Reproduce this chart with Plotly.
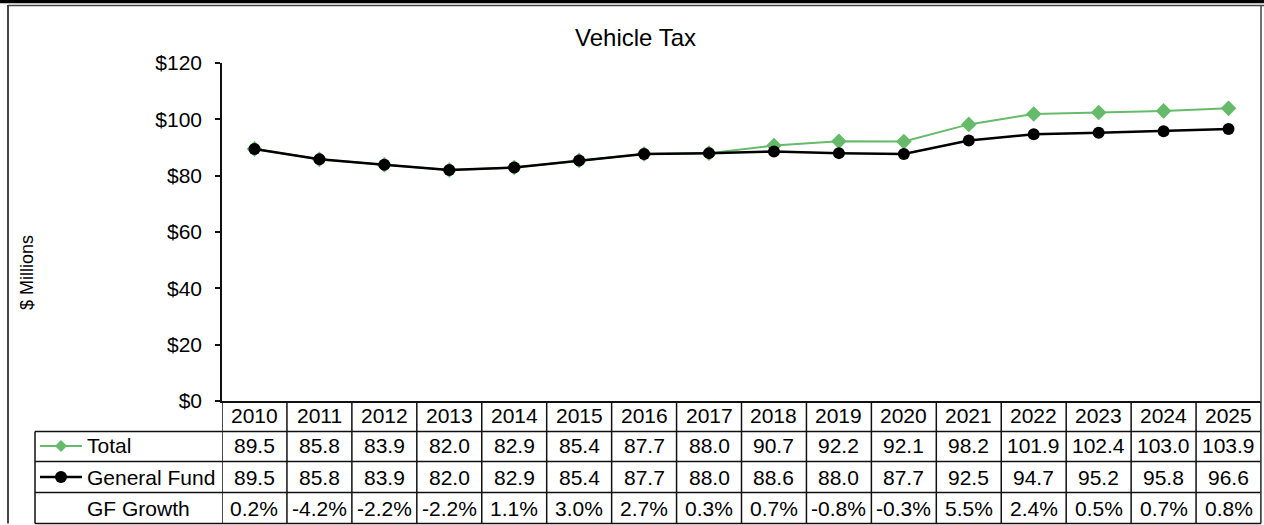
import plotly.graph_objects as go

years = [str(y) for y in range(2010, 2026)]
total = [89.5, 85.8, 83.9, 82.0, 82.9, 85.4, 87.7, 88.0, 90.7, 92.2, 92.1, 98.2, 101.9, 102.4, 103.0, 103.9]
general_fund = [89.5, 85.8, 83.9, 82.0, 82.9, 85.4, 87.7, 88.0, 88.6, 88.0, 87.7, 92.5, 94.7, 95.2, 95.8, 96.6]
gf_growth = ["0.2%", "-4.2%", "-2.2%", "-2.2%", "1.1%", "3.0%", "2.7%", "0.3%", "0.7%", "-0.8%",
             "-0.3%", "5.5%", "2.4%", "0.5%", "0.7%", "0.8%"]
y_ticks = [0, 20, 40, 60, 80, 100, 120]

GREEN = "#66BB6A"
FONT = "Liberation Sans, Arial, sans-serif"

FW, FH = 1264, 525
L, R, T, B = 222, 3, 63, 124
PW = FW - L - R
PH = FH - T - B


def px(x):
    return (x - L) / PW


def py(y):
    return (FH - B - y) / PH


idx = list(range(len(years)))

fig = go.Figure()
fig.add_trace(go.Scatter(x=idx, y=total, mode="lines+markers", name="Total",
                         line=dict(color=GREEN, width=2),
                         marker=dict(symbol="diamond", size=12, color=GREEN)))
fig.add_trace(go.Scatter(x=idx, y=general_fund, mode="lines+markers", name="General Fund",
                         line=dict(color="black", width=2.5),
                         marker=dict(symbol="circle", size=12, color="black")))

shapes = []
line_style = dict(color="#111111", width=1.5)
# vertical column lines
for i in range(len(years) + 1):
    shapes.append(dict(type="line", xref="x", yref="paper", x0=i - 0.5, x1=i - 0.5,
                       y0=0, y1=py(523.5), line=line_style))
# horizontal row lines
for yy in [431.5, 461.5, 492.5, 523.5]:
    shapes.append(dict(type="line", xref="paper", yref="paper", x0=px(35), x1=px(1261),
                       y0=py(yy), y1=py(yy), line=line_style))
# legend column left line
shapes.append(dict(type="line", xref="paper", yref="paper", x0=px(35), x1=px(35),
                   y0=py(431.5), y1=py(523.5), line=line_style))
# outer frame
shapes.append(dict(type="line", xref="paper", yref="paper", x0=px(8), x1=px(8),
                   y0=py(5), y1=py(523.5), line=dict(color="#444444", width=2)))
shapes.append(dict(type="line", xref="paper", yref="paper", x0=px(8), x1=px(1264),
                   y0=py(5.5), y1=py(5.5), line=dict(color="#444444", width=1.5)))
shapes.append(dict(type="line", xref="paper", yref="paper", x0=px(0), x1=px(1264),
                   y0=py(1.5), y1=py(1.5), line=dict(color="black", width=3.5)))
shapes.append(dict(type="line", xref="paper", yref="paper", x0=px(1261), x1=px(1261),
                   y0=py(5), y1=py(523.5), line=dict(color="#444444", width=1.5)))
# legend keys
shapes.append(dict(type="line", xref="paper", yref="paper", x0=px(40), x1=px(82),
                   y0=py(446), y1=py(446), line=dict(color=GREEN, width=2)))
dx, dy = 6, 6
path = (f"M {px(61 - dx)},{py(446)} L {px(61)},{py(446 - dy)} "
        f"L {px(61 + dx)},{py(446)} L {px(61)},{py(446 + dy)} Z")
shapes.append(dict(type="path", xref="paper", yref="paper", path=path,
                   fillcolor=GREEN, line=dict(color=GREEN, width=0)))
shapes.append(dict(type="line", xref="paper", yref="paper", x0=px(40), x1=px(82),
                   y0=py(477), y1=py(477), line=dict(color="black", width=2.5)))
shapes.append(dict(type="circle", xref="paper", yref="paper", x0=px(55), x1=px(67),
                   y0=py(483), y1=py(471), fillcolor="black", line=dict(color="black", width=0)))

annotations = []
tfont = dict(family=FONT, size=21, color="black")
row_y = {"year": 416, "total": 446, "gf": 477, "growth": 508}
for i in idx:
    annotations.append(dict(x=i, y=py(row_y["year"]), xref="x", yref="paper", text=years[i],
                            showarrow=False, font=tfont, xanchor="center", yanchor="middle"))
    annotations.append(dict(x=i, y=py(row_y["total"]), xref="x", yref="paper", text=f"{total[i]:.1f}",
                            showarrow=False, font=tfont, xanchor="center", yanchor="middle"))
    annotations.append(dict(x=i, y=py(row_y["gf"]), xref="x", yref="paper", text=f"{general_fund[i]:.1f}",
                            showarrow=False, font=tfont, xanchor="center", yanchor="middle"))
    annotations.append(dict(x=i, y=py(row_y["growth"]), xref="x", yref="paper", text=gf_growth[i],
                            showarrow=False, font=tfont, xanchor="center", yanchor="middle"))
for label, key in [("Total", "total"), ("General Fund", "gf"), ("GF Growth", "growth")]:
    annotations.append(dict(x=px(85), y=py(row_y[key]), xref="paper", yref="paper", text=label,
                            showarrow=False, font=tfont, xanchor="left", yanchor="middle"))
annotations.append(dict(x=px(635), y=py(37), xref="paper", yref="paper", text="Vehicle Tax",
                        showarrow=False, font=dict(family=FONT, size=24, color="black"),
                        xanchor="center", yanchor="middle"))
annotations.append(dict(x=px(27), y=py(273), xref="paper", yref="paper", text="$ Millions",
                        showarrow=False, textangle=-90, font=dict(family=FONT, size=18, color="black"),
                        xanchor="center", yanchor="middle"))

fig.update_layout(
    width=FW, height=FH,
    margin=dict(l=L, r=R, t=T, b=B, pad=0),
    paper_bgcolor="white", plot_bgcolor="white",
    showlegend=False,
    shapes=shapes, annotations=annotations,
    xaxis=dict(range=[-0.5, len(years) - 0.5], showticklabels=False, showgrid=False,
               zeroline=False, showline=True, linecolor="#111111", linewidth=1.5, ticks=""),
    yaxis=dict(range=[0, 120], tickvals=y_ticks, ticktext=[f"${v}" for v in y_ticks],
               showgrid=False, zeroline=False, showline=True, linecolor="#111111", linewidth=1.5,
               ticks="outside", ticklen=5, tickcolor="#111111", tickwidth=1.5,
               ticklabelstandoff=9, tickfont=dict(family=FONT, size=21, color="black")),
)

fig.write_html("out.html", config={"displayModeBar": False},
               post_script="document.body.style.margin='0';document.body.style.overflow='hidden';")
